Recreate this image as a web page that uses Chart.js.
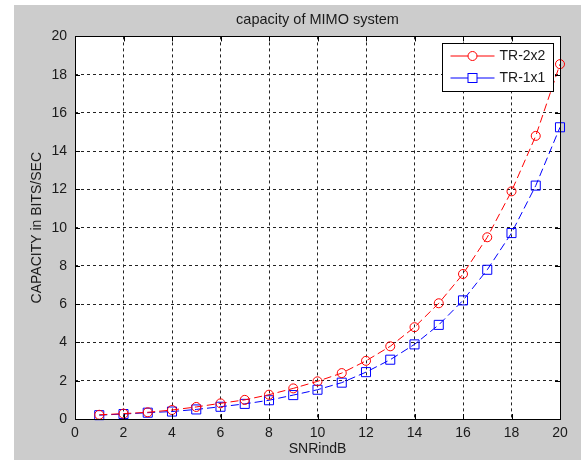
<!DOCTYPE html>
<html>
<head>
  <title>capacity of MIMO system</title>
  <script src="https://cdn.jsdelivr.net/npm/chart.js"></script>
  <style>
    html, body { margin: 0; padding: 0; background: #ffffff; }
    #wrap { width: 581px; height: 460px; }
  </style>
</head>
<body>
  <div id="wrap"><canvas id="chartLine" width="581" height="460"></canvas></div>
<script>
  // dados
  var snr = [1, 2, 3, 4, 5, 6, 7, 8, 9, 10, 11, 12, 13, 14, 15, 16, 17, 18, 19, 20];
  var tr2x2 = [0.22, 0.28, 0.35, 0.47, 0.63, 0.82, 1.0, 1.27, 1.6, 1.97, 2.4, 3.04, 3.8, 4.8, 6.05, 7.58, 9.5, 11.9, 14.8, 18.55];
  var tr1x1 = [0.2, 0.26, 0.33, 0.39, 0.5, 0.64, 0.79, 0.98, 1.25, 1.53, 1.9, 2.45, 3.1, 3.9, 4.92, 6.2, 7.8, 9.72, 12.2, 15.25];
  var xTicks = [0, 2, 4, 6, 8, 10, 12, 14, 16, 18, 20];
  var yTicks = [0, 2, 4, 6, 8, 10, 12, 14, 16, 18, 20];

  var corTexto = "#1a1a1a";
  var fonte = { family: "Arial, 'Liberation Sans', sans-serif", size: 14 };

  function pontos(valores) {
    return snr.map(function (x, i) { return { x: x, y: valores[i] }; });
  }

  // fundo cinza da figura
  const fundoFigura = {
    id: "fundoFigura",
    beforeDraw(chart) {
      const ctx = chart.ctx;
      ctx.save();
      ctx.fillStyle = "#cccccc";
      ctx.fillRect(14, 5, chart.width - 14, chart.height - 5);
      const a = chart.chartArea;
      ctx.fillStyle = "#ffffff";
      ctx.fillRect(a.left, a.top, a.right - a.left, a.bottom - a.top);
      ctx.restore();
    }
  };

  // caixa do eixo e ticks para dentro (estilo matlab)
  const caixaEixo = {
    id: "caixaEixo",
    afterDatasetsDraw(chart) {
      const ctx = chart.ctx;
      const a = chart.chartArea;
      const sx = chart.scales.x, sy = chart.scales.y;
      const t = 5;
      ctx.save();
      ctx.strokeStyle = "#000000";
      ctx.lineWidth = 1;
      ctx.setLineDash([]);
      ctx.beginPath();
      xTicks.forEach(function (v) {
        const px = Math.round(sx.getPixelForValue(v)) + 0.5;
        ctx.moveTo(px, a.bottom); ctx.lineTo(px, a.bottom - t);
        ctx.moveTo(px, a.top); ctx.lineTo(px, a.top + t);
      });
      yTicks.forEach(function (v) {
        const py = Math.round(sy.getPixelForValue(v)) + 0.5;
        ctx.moveTo(a.left, py); ctx.lineTo(a.left + t, py);
        ctx.moveTo(a.right, py); ctx.lineTo(a.right - t, py);
      });
      ctx.stroke();
      ctx.strokeRect(Math.round(a.left) + 0.5, Math.round(a.top) + 0.5,
        Math.round(a.right - a.left), Math.round(a.bottom - a.top));
      ctx.restore();
    }
  };

  // legenda com linha + marcador
  const legendaMatlab = {
    id: "legendaMatlab",
    afterDraw(chart) {
      const ctx = chart.ctx;
      const box = { x: 442.5, y: 43.5, w: 111, h: 48 };
      ctx.save();
      ctx.fillStyle = "#ffffff";
      ctx.fillRect(box.x, box.y, box.w, box.h);
      ctx.strokeStyle = "#000000";
      ctx.lineWidth = 1;
      ctx.strokeRect(box.x, box.y, box.w, box.h);
      ctx.font = fonte.size + "px " + fonte.family;
      ctx.textBaseline = "middle";
      chart.data.datasets.forEach(function (ds, i) {
        const y = box.y + 12.5 + i * 22;
        ctx.strokeStyle = ds.borderColor;
        ctx.beginPath();
        ctx.moveTo(box.x + 8, y);
        ctx.lineTo(box.x + 52, y);
        ctx.stroke();
        ctx.fillStyle = "#ffffff";
        if (ds.pointStyle === "circle") {
          ctx.beginPath();
          ctx.arc(box.x + 30, y, 4.5, 0, Math.PI * 2);
          ctx.fill();
          ctx.stroke();
        } else {
          ctx.fillRect(box.x + 25.5, y - 4.5, 9, 9);
          ctx.strokeRect(box.x + 25.5, y - 4.5, 9, 9);
        }
        ctx.fillStyle = corTexto;
        ctx.fillText(ds.label, box.x + 57, y + 0.5);
      });
      ctx.restore();
    }
  };

  const dados = {
    datasets: [
      {
        label: "TR-2x2",
        data: pontos(tr2x2),
        borderColor: "#ff0000",
        backgroundColor: "rgba(0,0,0,0)",
        borderWidth: 1,
        borderDash: [8, 4],
        pointStyle: "circle",
        pointRadius: 4.5,
        pointBorderWidth: 1,
        pointBorderColor: "#ff0000",
        pointBackgroundColor: "rgba(0,0,0,0)",
        tension: 0,
        clip: false,
      },
      {
        label: "TR-1x1",
        data: pontos(tr1x1),
        borderColor: "#0000ff",
        backgroundColor: "rgba(0,0,0,0)",
        borderWidth: 1,
        borderDash: [8, 4],
        pointStyle: "rect",
        pointRadius: 6.4,
        pointBorderWidth: 1,
        pointBorderColor: "#0000ff",
        pointBackgroundColor: "rgba(0,0,0,0)",
        tension: 0,
        clip: false,
      },
    ],
  };

  const config = {
    type: "line",
    data: dados,
    options: {
      responsive: false,
      animation: false,
      events: [],
      layout: { padding: { left: 14, right: 21, top: 0, bottom: 0 } },
      plugins: {
        legend: { display: false },
        tooltip: { enabled: false },
        title: {
          display: true,
          text: "capacity of MIMO system",
          color: corTexto,
          font: { family: fonte.family, size: 14.5, weight: "normal" },
          padding: { top: 11, bottom: 8 },
          fullSize: false,
        },
      },
      scales: {
        x: {
          type: "linear",
          min: 0,
          max: 20,
          afterFit(scale) { scale.height = 41; },
          afterBuildTicks(scale) { scale.ticks = xTicks.map(function (v) { return { value: v }; }); },
          ticks: { color: corTexto, font: fonte, padding: 6, maxRotation: 0, autoSkip: false },
          grid: { color: "#222222", lineWidth: 1, drawTicks: false },
          border: { display: false, dash: [3, 3] },
          title: {
            display: true,
            text: "SNRindB",
            color: corTexto,
            font: fonte,
            padding: { top: 0, bottom: 2 },
          },
        },
        y: {
          type: "linear",
          min: 0,
          max: 20,
          afterFit(scale) { scale.width = 61; },
          afterBuildTicks(scale) { scale.ticks = yTicks.map(function (v) { return { value: v }; }); },
          ticks: { color: corTexto, font: fonte, padding: 8, autoSkip: false },
          grid: { color: "#222222", lineWidth: 1, drawTicks: false },
          border: { display: false, dash: [3, 3] },
          title: {
            display: true,
            text: "CAPACITY in BITS/SEC",
            color: corTexto,
            font: fonte,
            padding: { top: 15, bottom: 0 },
          },
        },
      },
    },
    plugins: [fundoFigura, caixaEixo, legendaMatlab],
  };

  let grafico = new Chart(document.getElementById("chartLine"), config);
</script>
</body>
</html>
